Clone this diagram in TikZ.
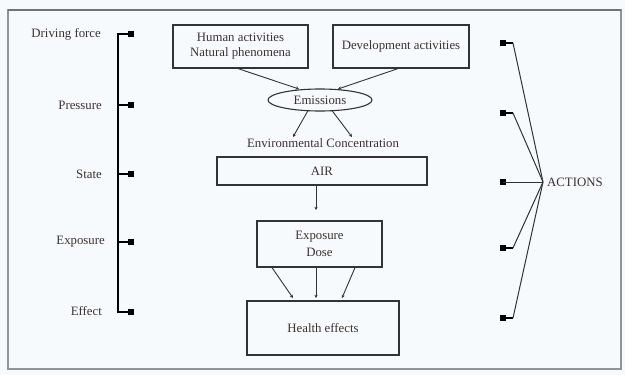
\documentclass[tikz,border=0pt]{standalone}
\usepackage{fontspec}
\setmainfont{Liberation Serif}
\usetikzlibrary{arrows.meta,shapes.geometric}
\definecolor{txt}{HTML}{3E3030}
\definecolor{ln}{HTML}{333333}
\definecolor{bg}{HTML}{F7FAFC}
\tikzset{
  lbl/.style={text=txt,font=\fontsize{12.8}{15}\selectfont,inner sep=0pt},
  sbox/.style={draw=ln,line width=1.2pt,text=txt,font=\fontsize{12.8}{15}\selectfont,align=center,inner sep=0pt},
  conn/.style={draw=ln,line width=0.9pt,-{Stealth[length=3.2pt,width=3.2pt]}},
  sq/.style={fill=black,minimum width=6pt,minimum height=5.5pt,inner sep=0pt,outer sep=0pt},
  spine/.style={draw=black,line width=1.9pt},
  act/.style={draw=ln,line width=1pt}
}
\begin{document}
\begin{tikzpicture}[x=1pt,y=-1pt]
\useasboundingbox (0,0) rectangle (625,375);
\fill[bg] (0,0) rectangle (625,375);
\draw[draw=gray!85,line width=1.3pt] (8,10) rectangle (621,369);
\draw[draw=gray!90!black,line width=2pt] (8,10) -- (621,10);
% left labels
\node[lbl,anchor=east] (ldf) at (101,34) {Driving force};
\node[lbl,anchor=east] (lpr) at (102,105) {Pressure};
\node[lbl,anchor=east] (lst) at (102,174) {State};
\node[lbl,anchor=east] (lex) at (105,242) {Exposure};
\node[lbl,anchor=east] (lef) at (102,311) {Effect};
% left spine
\coordinate (s1) at (118,34);
\coordinate (s2) at (118,105);
\coordinate (s3) at (118,174);
\coordinate (s4) at (118,242);
\coordinate (s5) at (118,312);
\node[sq] (q1) at (131,34) {};
\node[sq] (q2) at (131,105) {};
\node[sq] (q3) at (131,174) {};
\node[sq] (q4) at (131,242) {};
\node[sq] (q5) at (131,312) {};
\draw[spine] (q1.center) -- (s1) -- (s5) -- (q5.center);
\draw[spine] (s2) -- (q2.center);
\draw[spine] (s3) -- (q3.center);
\draw[spine] (s4) -- (q4.center);
% boxes
\node[sbox,minimum width=135pt,minimum height=43pt] (hum) at (240.5,46.5) {Human activities\\Natural phenomena};
\node[sbox,minimum width=136pt,minimum height=43pt] (dev) at (401,46.5) {Development activities};
\node[draw=ln,line width=1.1pt,ellipse,minimum width=104pt,minimum height=22pt,inner sep=0pt,text=txt,font=\fontsize{12.8}{15}\selectfont] (emi) at (320,100) {Emissions};
\node[lbl] (env) at (323,143) {Environmental Concentration};
\node[sbox,minimum width=210pt,minimum height=28pt] (air) at (322,171) {AIR};
\node[sbox,minimum width=125pt,minimum height=46pt] (exd) at (319.5,244) {Exposure\\[2pt]Dose};
\node[sbox,minimum width=152pt,minimum height=54pt] (hea) at (323,328) {Health effects};
% connectors
\draw[conn] (hum.south -| 238,0) -- (299,89);
\draw[conn] (dev.south -| 398,0) -- (338,89);
\draw[conn] (emi.south -| 308,0) ++(0,-1) -- (293,137);
\draw[conn] (emi.south -| 332,0) ++(0,-1) -- (352,137);
\draw[conn] (air.south -| 316,0) -- (316,210);
\draw[conn] (exd.south -| 272,0) -- (293,298);
\draw[conn] (exd.south -| 316,0) -- (316,298);
\draw[conn] (exd.south -| 355,0) -- (342,298);
% actions
\node[lbl,anchor=west] (actn) at (547,182) {ACTIONS};
\coordinate (hub) at (543,182);
\foreach \i/\yy in {1/43,2/113,3/182,4/248,5/318}{
  \node[sq] (r\i) at (503,\yy) {};
}
\draw[spine,line width=1.6pt] (r1.center) -- (513,43);
\draw[spine,line width=1.6pt] (r2.center) -- (513,113);
\draw[spine,line width=1.6pt] (r4.center) -- (513,248);
\draw[spine,line width=1.6pt] (r5.center) -- (513,318);
\draw[act] (513,43) -- (hub);
\draw[act] (513,113) -- (hub);
\draw[act] (r3.center) -- (hub);
\draw[act] (513,248) -- (hub);
\draw[act] (513,318) -- (hub);
\end{tikzpicture}
\end{document}
